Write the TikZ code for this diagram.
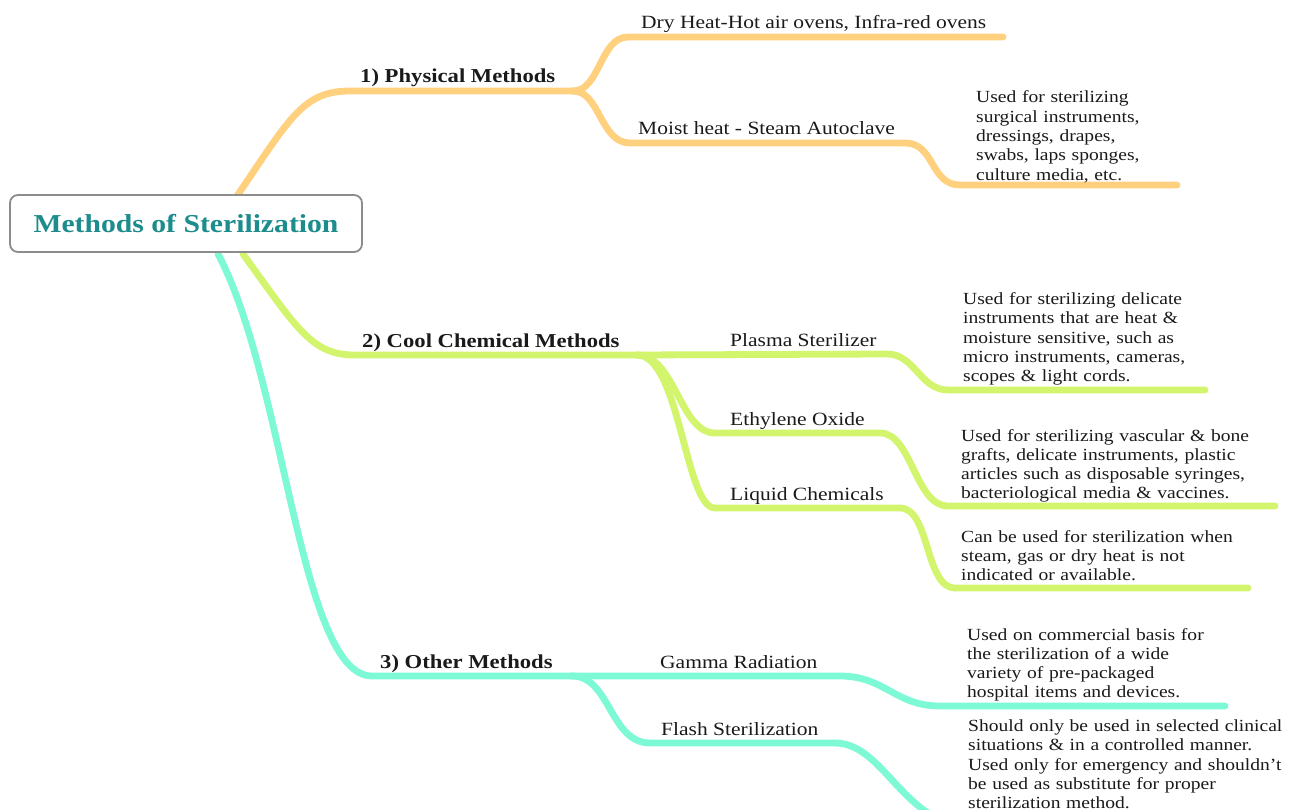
\documentclass[tikz,border=0pt]{standalone}
\usepackage{fontspec}
\setmainfont{Liberation Serif}[FakeStretch=1.15]
\definecolor{corange}{HTML}{FFD07D}
\definecolor{cgreen}{HTML}{D3F56E}
\definecolor{cteal}{HTML}{7DF9D6}
\definecolor{croot}{HTML}{1C8C8C}
\definecolor{cborder}{HTML}{8C8C8C}
\definecolor{ctext}{HTML}{1A1A1A}
\begin{document}
\begin{tikzpicture}[x=1pt,y=-1pt,
  branch/.style={line width=6.8pt,line cap=round},
  lab/.style={anchor=base west,inner sep=0pt,text=ctext,font=\fontsize{18.7}{22}\selectfont},
  blab/.style={anchor=base west,inner sep=0pt,text=ctext,font=\fontsize{19.7}{22}\selectfont\bfseries},
  note/.style={anchor=base west,inner sep=0pt,text=ctext,text width=340pt,align=left,font=\fontsize{17}{19.3}\selectfont},
  rootbox/.style={draw=cborder,line width=1.8pt,rounded corners=8pt,fill=white,minimum width=352pt,minimum height=57pt,inner sep=0pt,text=croot,font=\fontsize{25.8}{30}\selectfont\bfseries}
]
\clip (0,0) rectangle (1293,810);
\fill[white] (0,0) rectangle (1293,810);

% coordinates
\coordinate (pS) at (237,196);
\coordinate (pM) at (573,91);
\coordinate (dryE) at (1003,37);
\coordinate (moE) at (1177,185);
\coordinate (cS) at (243,254);
\coordinate (cM) at (637,355);
\coordinate (plE) at (1205,390);
\coordinate (etE) at (1275,506);
\coordinate (liE) at (1248,588);
\coordinate (oS) at (218,254);
\coordinate (oM) at (572,676);
\coordinate (gaE) at (1225,706);
\coordinate (flE) at (955,825);

% orange branch
\draw[branch,corange] (pS) .. controls (290,118) and (303,91) .. (350,91) -- (pM);
\draw[branch,corange] (pM) .. controls (600,91) and (600,37) .. (628,37) -- (dryE);
\draw[branch,corange] (pM) .. controls (600,91) and (600,143) .. (630,143) -- (905,143) .. controls (935,143) and (930,185) .. (960,185) -- (moE);

% green branch
\draw[branch,cgreen] (cS) .. controls (298,330) and (312,355) .. (355,355) -- (cM);
\draw[branch,cgreen] (cM) -- (887,354) .. controls (915,354) and (920,390) .. (948,390) -- (plE);
\draw[branch,cgreen] (cM) .. controls (675,355) and (680,433) .. (715,433) -- (880,433) .. controls (912,433) and (915,506) .. (948,506) -- (etE);
\draw[branch,cgreen] (cM) .. controls (680,355) and (685,508) .. (715,508) -- (900,508) .. controls (930,508) and (925,588) .. (955,588) -- (liE);

% teal branch
\draw[branch,cteal] (oS) .. controls (285,380) and (300,676) .. (372,676) -- (oM);
\draw[branch,cteal] (oM) -- (840,676) .. controls (885,676) and (895,706) .. (940,706) -- (gaE);
\draw[branch,cteal] (oM) .. controls (610,676) and (610,743) .. (650,743) -- (835,743) .. controls (880,743) and (900,812) .. (flE);

% root
\node[rootbox] (root) at (186,223.5) {Methods of Sterilization};

% labels
\node[lab] (dry) at (641,29) {Dry Heat-Hot air ovens, Infra-red ovens};
\node[lab] (moist) at (638,135) {Moist heat - Steam Autoclave};
\node[blab] (phys) at (360,83) {1) Physical Methods};
\node[blab] (cool) at (362,347) {2) Cool Chemical Methods};
\node[lab] (plasma) at (730,346) {Plasma Sterilizer};
\node[lab] (eto) at (730,425) {Ethylene Oxide};
\node[lab] (liq) at (730,500) {Liquid Chemicals};
\node[blab] (other) at (380,668) {3) Other Methods};
\node[lab] (gamma) at (660,668) {Gamma Radiation};
\node[lab] (flash) at (661,735) {Flash Sterilization};

% notes
\node[note] (n1) at (976,103) {Used for sterilizing\\surgical instruments,\\dressings, drapes,\\swabs, laps sponges,\\culture media, etc.};
\node[note] (n2) at (963,304.5) {Used for sterilizing delicate\\instruments that are heat \&\\moisture sensitive, such as\\micro instruments, cameras,\\scopes \& light cords.};
\node[note] (n3) at (961,441) {Used for sterilizing vascular \& bone\\grafts, delicate instruments, plastic\\articles such as disposable syringes,\\bacteriological media \& vaccines.};
\node[note] (n4) at (961,542) {Can be used for sterilization when\\steam, gas or dry heat is not\\indicated or available.};
\node[note] (n5) at (967,640) {Used on commercial basis for\\the sterilization of a wide\\variety of pre-packaged\\hospital items and devices.};
\node[note] (n6) at (968,731.5) {Should only be used in selected clinical\\situations \& in a controlled manner.\\Used only for emergency and shouldn't\\be used as substitute for proper\\sterilization method.};
\end{tikzpicture}
\end{document}
